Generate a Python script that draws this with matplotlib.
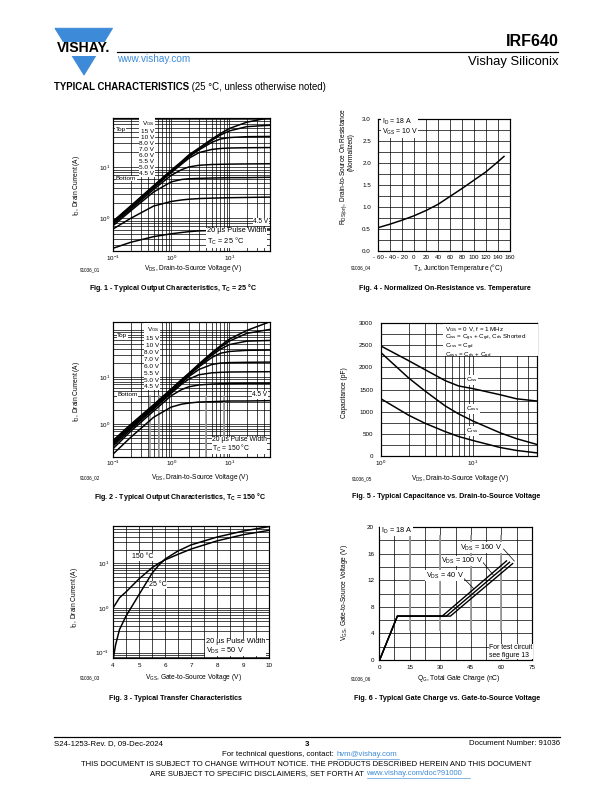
import matplotlib
matplotlib.use('Agg')
import matplotlib.pyplot as plt
from matplotlib.patches import Polygon, Rectangle

plt.rcParams['font.family'] = ['Liberation Sans', 'DejaVu Sans']
plt.rcParams['mathtext.fontset'] = 'custom'
plt.rcParams['mathtext.rm'] = 'Liberation Sans'
plt.rcParams['mathtext.it'] = 'Liberation Sans:italic'
plt.rcParams['mathtext.bf'] = 'Liberation Sans:bold'
plt.rcParams['mathtext.default'] = 'regular'

BLUE = '#3d8bd8'

# ---- data ----
# Fig 1 / Fig 2: output characteristics
vds = [0.1, 0.2, 0.5, 1, 1.5, 2, 3, 5, 7, 10, 20, 50]
vgs_labels = ['15 V', '10 V', '8.0 V', '7.0 V', '6.0 V', '5.5 V', '5.0 V', '4.5 V']
id_25 = [
    [0.88, 1.75, 4.4, 8.8, 13, 17.5, 24, 36, 46, 58, 77, 95],
    [0.86, 1.7, 4.3, 8.5, 12.5, 16.5, 23, 34, 43, 52, 63, 67],
    [0.84, 1.65, 4.1, 8.2, 12, 16, 22, 31, 36, 38.5, 40, 40.5],
    [0.82, 1.6, 4.0, 7.9, 11.5, 15, 19.5, 22.5, 23.5, 24, 24.3, 24.5],
    [0.78, 1.5, 3.7, 7.0, 9.0, 10.2, 11.0, 11.4, 11.5, 11.6, 11.7, 11.8],
    [0.72, 1.4, 3.3, 5.2, 5.8, 6.0, 6.1, 6.2, 6.25, 6.3, 6.3, 6.4],
    [0.62, 1.0, 1.75, 2.15, 2.3, 2.38, 2.45, 2.5, 2.52, 2.55, 2.58, 2.62],
    [0.26, 0.34, 0.44, 0.5, 0.53, 0.55, 0.57, 0.58, 0.59, 0.60, 0.61, 0.62],
]
id_150 = [
    [0.45, 0.98, 2.6, 5.6, 8.8, 12, 19, 33, 46, 64, 98, 150],
    [0.43, 0.94, 2.5, 5.4, 8.5, 11.6, 18, 31, 43, 58, 85, 103],
    [0.41, 0.9, 2.4, 5.2, 8.2, 11.2, 17.5, 29, 39, 49, 58, 60],
    [0.39, 0.86, 2.3, 5.0, 7.9, 10.8, 16.5, 26, 32, 35, 37, 37.5],
    [0.37, 0.82, 2.2, 4.8, 7.5, 10.2, 14.5, 18.5, 19.8, 20.3, 20.6, 20.8],
    [0.34, 0.77, 2.1, 4.5, 7.0, 9.0, 11.2, 12.3, 12.6, 12.8, 12.9, 13.0],
    [0.30, 0.7, 1.9, 4.0, 5.4, 6.2, 6.8, 7.1, 7.2, 7.3, 7.4, 7.4],
    [0.23, 0.52, 1.4, 2.3, 2.65, 2.8, 2.95, 3.0, 3.05, 3.1, 3.1, 3.15],
]

# Fig 3: transfer characteristics
vgs_25 = [4.02, 4.1, 4.25, 4.5, 5.0, 5.5, 5.75, 6.0, 6.5, 7.0, 8.0, 9.0, 10.0]
id_t25 = [0.08, 0.15, 0.33, 0.66, 2.0, 6.0, 9.0, 12.5, 19, 26, 39, 53, 67]
vgs_150 = [4.0, 4.25, 4.5, 5.0, 5.5, 5.75, 6.0, 6.5, 7.0, 8.0, 9.0, 10.0]
id_t150 = [1.0, 1.7, 2.3, 4.5, 8.0, 10, 12, 16, 21, 32, 44, 55]

# Fig 4: normalized on-resistance
tj = [-60, -40, -20, 0, 20, 40, 60, 80, 100, 120, 140, 150]
rds_norm = [0.53, 0.61, 0.70, 0.80, 0.92, 1.06, 1.24, 1.42, 1.61, 1.80, 2.03, 2.15]

# Fig 5: capacitance
vds_c = [1, 2, 3, 5, 7, 10, 20, 30, 50]
c_iss = [2480, 2150, 1950, 1700, 1580, 1520, 1380, 1290, 1240]
c_oss = [2330, 1760, 1470, 1130, 950, 790, 520, 390, 260]
c_rss = [1290, 920, 740, 550, 440, 350, 190, 125, 70]

# Fig 6: gate charge
qg_40 = [0.3, 9.0, 31.0, 62.5]
vg_40 = [0, 6.6, 6.6, 14.9]
qg_100 = [0.3, 9.0, 33.0, 64.0]
vg_100 = [0, 6.6, 6.6, 14.7]
qg_160 = [0.3, 9.0, 35.0, 65.5]
vg_160 = [0, 6.6, 6.6, 14.5]

W, H = 612, 792
fig = plt.figure(figsize=(W / 72, H / 72), dpi=72)


def box(x0, y0, x1, y1):
    return [x0 / W, 1 - y1 / H, (x1 - x0) / W, (y1 - y0) / H]


def style(ax, padx, pady):
    for s in ax.spines.values():
        s.set_linewidth(1.2)
    ax.tick_params(which='both', length=0, labelsize=6.3)
    ax.tick_params(axis='x', pad=padx)
    ax.tick_params(axis='y', pad=pady)
    ax.grid(which='both', color='black', lw=0.7)
    ax.set_axisbelow(True)


dec_lbl = {0.1: '10$^{-1}$', 1: '10$^0$', 10: '10$^1$'}


def log_minor(lo, hi):
    out = []
    for d in [0.01, 0.1, 1, 10, 100]:
        for m in range(1, 10):
            v = m * d
            if lo < v < hi:
                out.append(v)
    return out


# ---- Fig 1 ----
ax1 = fig.add_axes(box(113, 118, 270, 251))
ax1.set_xscale('log'); ax1.set_yscale('log')
for y in id_25:
    ax1.plot(vds, y, color='black', lw=1.5)
ax1.set_xlim(0.1, 50); ax1.set_ylim(0.23, 93)
ax1.set_xticks([0.1, 1, 10], [dec_lbl[v] for v in [0.1, 1, 10]])
ax1.set_yticks([1, 10], [dec_lbl[v] for v in [1, 10]])
ax1.set_xticks(log_minor(0.1, 50), minor=True)
ax1.set_yticks(log_minor(0.23, 93), minor=True)
ax1.xaxis.set_minor_formatter(plt.NullFormatter())
ax1.yaxis.set_minor_formatter(plt.NullFormatter())
style(ax1, 2.5, 3)

# ---- Fig 2 ----
ax2 = fig.add_axes(box(113, 322, 270, 457))
ax2.set_xscale('log'); ax2.set_yscale('log')
for xg in [0.43, 0.63, 3.95, 8.0]:
    ax2.axvline(xg, ymin=0, ymax=0.45, color='#9a9a9a', lw=1.6, zorder=1.5)
for y in id_150:
    ax2.plot(vds, y, color='black', lw=1.5)
ax2.set_xlim(0.1, 50); ax2.set_ylim(0.2, 148)
ax2.set_xticks([0.1, 1, 10], [dec_lbl[v] for v in [0.1, 1, 10]])
ax2.set_yticks([1, 10], [dec_lbl[v] for v in [1, 10]])
ax2.set_xticks(log_minor(0.1, 50), minor=True)
ax2.set_yticks(log_minor(0.2, 148), minor=True)
ax2.xaxis.set_minor_formatter(plt.NullFormatter())
ax2.yaxis.set_minor_formatter(plt.NullFormatter())
style(ax2, 2, 3)

# ---- Fig 3 ----
ax3 = fig.add_axes(box(113, 526, 269, 658))
ax3.set_yscale('log')
ax3.plot(vgs_150, id_t150, color='black', lw=1.5)
ax3.plot(vgs_25, id_t25, color='black', lw=1.5)
ax3.set_xlim(4, 10); ax3.set_ylim(0.076, 69)
ax3.set_xticks(range(4, 11))
ax3.set_xticks([4 + 0.5 * i for i in range(13)], minor=True)
ax3.set_yticks([0.1, 1, 10], [dec_lbl[v] for v in [0.1, 1, 10]])
ax3.set_yticks(log_minor(0.076, 69), minor=True)
ax3.yaxis.set_minor_formatter(plt.NullFormatter())
style(ax3, 5, 4)

# ---- Fig 4 ----
ax4 = fig.add_axes(box(378, 119, 510, 251))
ax4.plot(tj, rds_norm, color='black', lw=1.5)
ax4.set_xlim(-60, 160); ax4.set_ylim(0, 3)
ax4.set_xticks(range(-60, 161, 20),
               ['- 60', '- 40', '- 20', '0', '20', '40', '60', '80', '100', '120', '140', '160'])
ax4.set_yticks([0.5 * i for i in range(7)], ['%.1f' % (0.5 * i) for i in range(7)])
ax4.set_yticks([0.25 * i for i in range(13)], minor=True)
style(ax4, 4, 7)

# ---- Fig 5 ----
ax5 = fig.add_axes(box(381, 323, 537, 456))
ax5.set_xscale('log')
ax5.plot(vds_c, c_iss, color='black', lw=1.5)
ax5.plot(vds_c, c_oss, color='black', lw=1.5)
ax5.plot(vds_c, c_rss, color='black', lw=1.5)
ax5.set_xlim(1, 50); ax5.set_ylim(0, 3000)
ax5.set_xticks([1, 10], [dec_lbl[1], dec_lbl[10]])
ax5.set_xticks(log_minor(1, 50), minor=True)
ax5.xaxis.set_minor_formatter(plt.NullFormatter())
ax5.set_yticks(range(0, 3001, 500))
ax5.set_yticks(range(0, 3001, 250), minor=True)
style(ax5, 2.5, 8)

# ---- Fig 6 ----
ax6 = fig.add_axes(box(379, 527, 532, 660))
ax6.set_xlim(0, 75); ax6.set_ylim(0, 20)
ax6.set_xticks(range(0, 76, 15))
ax6.set_xticks([7.5 * i for i in range(11)], minor=True)
ax6.set_yticks(range(0, 21, 4))
ax6.set_yticks(range(0, 21, 2), minor=True)
style(ax6, 5, 5)
for xg in [15, 30, 45, 60]:
    ax6.plot([xg, xg], [4.5, 18.7], color='#9a9a9a', lw=1.8, zorder=1.5)
ax6.plot(qg_40, vg_40, color='black', lw=1.4)
ax6.plot(qg_100, vg_100, color='black', lw=1.4)
ax6.plot(qg_160, vg_160, color='black', lw=1.4)

# ---- page overlay in pixel coordinates ----
ov = fig.add_axes([0, 0, 1, 1], zorder=10)
ov.set_xlim(0, W); ov.set_ylim(H, 0)
ov.axis('off')


def T(x, y, s, size=6.6, ha='left', va='center', bg=False, **kw):
    if bg:
        kw['bbox'] = dict(facecolor='white', edgecolor='none', pad=0.4)
    return ov.text(x, y, s, fontsize=size, ha=ha, va=va, **kw)


vgs_block = 'V$_{GS}$\n' + '\n'.join(vgs_labels)

# header
ov.add_patch(Polygon([(55, 28.3), (112.5, 28.3), (84, 75)], closed=True, color=BLUE))
ov.add_patch(Rectangle((50, 41.5), 66, 13, color='white'))
T(83.5, 48.3, 'VISHAY.', size=14, ha='center', weight='bold')
ov.plot([117, 558], [52.3, 52.3], color='black', lw=1.2)
T(117.5, 59.5, 'www.vishay.com', size=10, color=BLUE)
T(559, 41.5, 'IRF640', size=16, ha='right', weight='bold')
T(559, 62.5, 'Vishay Siliconix', size=13, ha='right')
t = T(53.7, 92, 'TYPICAL CHARACTERISTICS', size=9.6, va='bottom', weight='bold')
ov.annotate(' (25 °C, unless otherwise noted)', xy=(1, 0), xycoords=t,
            fontsize=9.6, ha='left', va='bottom')

# Fig 1 texts
T(77, 185, 'I$_D$, Drain Current (A)', rotation=90, ha='center')
T(193, 269, 'V$_{DS}$, Drain-to-Source Voltage (V)', ha='center')
T(80, 269.5, '91036_01', size=4.5)
T(173, 288, r'Fig. 1 - Typical Output Characteristics, $\mathbf{T_C}$ = 25 °C',
  size=7.1, ha='center', weight='bold')
T(154.3, 118.8, vgs_block, size=6.4, ha='right', va='top', linespacing=1.27,
  multialignment='right', bbox=dict(facecolor='white', edgecolor='none', pad=0.3))
T(115.7, 129.3, 'Top', size=6.4, bg=True)
T(116, 178.5, 'Bottom', size=6.4, bg=True)
T(268.3, 221.7, '4.5 V', size=6.5, ha='right', bg=True)
T(206.7, 237.2, '20 µs Pulse Width\nT$_C$ = 25 °C', size=7.4, linespacing=1.25, bg=True)

# Fig 2 texts
T(77, 391, 'I$_D$, Drain Current (A)', rotation=90, ha='center')
T(200, 477.3, 'V$_{DS}$, Drain-to-Source Voltage (V)', ha='center')
T(80, 478, '91036_02', size=4.5)
T(180, 497, r'Fig. 2 - Typical Output Characteristics, $\mathbf{T_C}$ = 150 °C',
  size=7.1, ha='center', weight='bold')
T(159.3, 325.5, vgs_block, size=6.4, ha='right', va='top', linespacing=1.47,
  multialignment='right', bbox=dict(facecolor='white', edgecolor='none', pad=0.3))
T(117.3, 335.7, 'Top', size=6.4, bg=True)
T(117.3, 395, 'Bottom', size=6.4, bg=True)
T(267.3, 395, '4.5 V', size=6.5, ha='right', bg=True)
T(212.2, 445, '20 µs Pulse Width\nT$_C$ = 150 °C', size=6.8, linespacing=0.95, bg=True)

# Fig 3 texts
T(75, 597, 'I$_D$, Drain Current (A)', rotation=90, ha='center')
T(193.3, 677.3, 'V$_{GS}$, Gate-to-Source Voltage (V)', ha='center')
T(80, 678, '91036_03', size=4.5)
T(175, 698, 'Fig. 3 - Typical Transfer Characteristics', size=7.1, ha='center', weight='bold')
T(131.7, 556.7, '150 °C', size=7, bg=True)
T(149.3, 585, '25 °C', size=7, bg=True)
T(205.7, 647.2, '20 µs Pulse Width\nV$_{DS}$ = 50 V', size=7.4, linespacing=1.05, bg=True)

# Fig 4 texts
T(344, 166, 'R$_{DS(on)}$, Drain-to-Source On Resistance', rotation=90, ha='center')
T(351.5, 152.5, '(Normalized)', rotation=90, ha='center')
T(458.3, 268, 'T$_J$, Junction Temperature (°C)', ha='center')
T(350.7, 268, '91036_04', size=4.5)
T(445, 288, 'Fig. 4 - Normalized On-Resistance vs. Temperature', size=7.1, ha='center', weight='bold')
T(381.7, 127, 'I$_D$ = 18 A\nV$_{GS}$ = 10 V', size=7, linespacing=1.05, bg=True)

# Fig 5 texts
T(345, 393, 'Capacitance (pF)', rotation=90, ha='center')
T(460, 478.3, 'V$_{DS}$, Drain-to-Source Voltage (V)', ha='center')
T(351.7, 478.5, '91036_05', size=4.5)
T(446, 497, 'Fig. 5 - Typical Capacitance vs. Drain-to-Source Voltage', size=7.1, ha='center', weight='bold')
ov.add_patch(Rectangle((443, 324.2), 93.5, 30.5, color='white', zorder=1))
T(445, 324.8, 'V$_{GS}$ = 0 V, f = 1 MHz\n'
  'C$_{iss}$ = C$_{gs}$ + C$_{gd}$, C$_{ds}$ Shorted\n'
  'C$_{rss}$ = C$_{gd}$\n'
  'C$_{oss}$ = C$_{ds}$ + C$_{gd}$', size=6.2, va='top', linespacing=0.85, zorder=2)
T(466, 380, 'C$_{iss}$', size=6.2, bg=True)
T(466, 409, 'C$_{oss}$', size=6.2, bg=True)
T(466, 431, 'C$_{rss}$', size=6.2, bg=True)

# Fig 6 texts
T(344, 593, 'V$_{GS}$, Gate-to-Source Voltage (V)', rotation=90, ha='center')
T(458.3, 678.3, 'Q$_G$, Total Gate Charge (nC)', ha='center')
T(350.7, 678.5, '91036_06', size=4.5)
T(446.7, 698, 'Fig. 6 - Typical Gate Charge vs. Gate-to-Source Voltage', size=7.1, ha='center', weight='bold')
T(380.7, 530.5, 'I$_D$ = 18 A', size=7.4, bg=True)
T(460.5, 547.7, 'V$_{DS}$ = 160 V', size=7.4, bg=True)
T(441, 561, 'V$_{DS}$ = 100 V', size=7.4, bg=True)
T(425.7, 575.7, 'V$_{DS}$ = 40 V', size=7.4, bg=True)
ov.plot([503.5, 514.3], [549, 561], color='black', lw=0.7)
ov.plot([483, 493.3], [562.5, 575], color='black', lw=0.7)
ov.plot([463, 474], [577.5, 589], color='black', lw=0.7)
T(489.3, 651.4, 'For test circuit\nsee figure 13', size=6.9, linespacing=1.15, bg=True)

# footer
ov.plot([53.7, 560], [737.3, 737.3], color='black', lw=1.2)
T(53.7, 743.5, 'S24-1253-Rev. D, 09-Dec-2024', size=7.7)
T(307, 744, '3', size=7.7, ha='center', weight='bold')
T(560, 743.5, 'Document Number: 91036', size=7.7, ha='right')
T(336, 754, 'For technical questions, contact: ', size=7.7, ha='right')
T(336.5, 754, 'hvm@vishay.com', size=7.7, color=BLUE)
ov.plot([336.5, 398.5], [758.6, 758.6], color=BLUE, lw=0.6)
T(306.5, 765, 'THIS DOCUMENT IS SUBJECT TO CHANGE WITHOUT NOTICE. THE PRODUCTS DESCRIBED HEREIN AND THIS DOCUMENT',
  size=7.6, ha='center')
T(365.5, 773.3, 'ARE SUBJECT TO SPECIFIC DISCLAIMERS, SET FORTH AT ', size=7.6, ha='right')
T(366.5, 773.3, 'www.vishay.com/doc?91000', size=7.6, color=BLUE)
ov.plot([366.5, 470], [777.8, 777.8], color=BLUE, lw=0.6)

fig.savefig('out.png', dpi=72)
